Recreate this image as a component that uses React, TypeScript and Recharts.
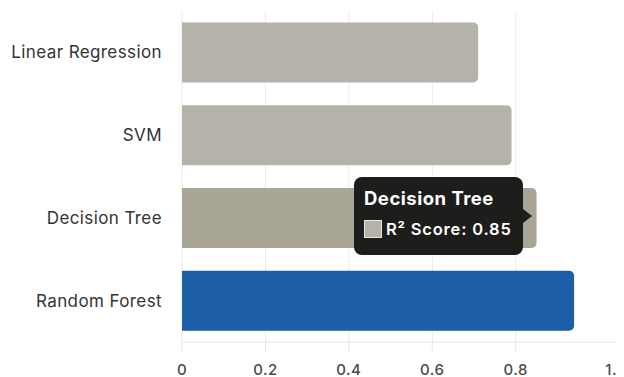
import React from 'react';
import { BarChart, Bar, XAxis, YAxis, CartesianGrid, Tooltip, Cell } from 'recharts';

const models = ['Linear Regression', 'SVM', 'Decision Tree', 'Random Forest'];
const r2Scores = [0.71, 0.79, 0.85, 0.94];
const xTicks = [0, 0.2, 0.4, 0.6, 0.8, 1.05];

const data = models.map((model, i) => ({ model, r2: r2Scores[i] }));

const FONT = 'Inter, "Noto Sans", sans-serif';

const barFill = (i: number) => {
  if (i === models.length - 1) return '#1c5ea7';
  if (i === 2) return '#a9a697';
  return '#b5b2aa';
};

// one decimal, so the 1.05 end tick reads 1.1
const fmtTick = (v: number) => String(Number(v.toFixed(1)));

const ScoreTooltip = ({ active, payload }: any) => {
  if (!active || !payload || !payload.length) return null;
  const item = payload[0];
  return (
    <div
      style={{
        position: 'relative',
        width: 169,
        height: 78,
        boxSizing: 'border-box',
        background: '#1d1d1b',
        borderRadius: 8,
        padding: '9px 10px',
        color: '#fff',
        fontFamily: FONT,
      }}
    >
      <div style={{ fontSize: 18.5, fontWeight: 700, lineHeight: '25px', letterSpacing: 0.5, whiteSpace: 'nowrap' }}>
        {item.payload.model}
      </div>
      <div style={{ display: 'flex', alignItems: 'center', marginTop: 8 }}>
        <span
          style={{
            display: 'inline-block',
            width: 16,
            height: 16,
            background: '#b5b2aa',
            border: '1px solid #e6e6e6',
            marginRight: 4,
            flexShrink: 0,
          }}
        />
        <span style={{ fontSize: 16.5, fontWeight: 600, letterSpacing: 0.8, whiteSpace: 'nowrap' }}>
          R² Score: {item.value}
        </span>
      </div>
      <div
        style={{
          position: 'absolute',
          right: -9,
          top: 32,
          width: 0,
          height: 0,
          borderTop: '7px solid transparent',
          borderBottom: '7px solid transparent',
          borderLeft: '9px solid #1d1d1b',
        }}
      />
    </div>
  );
};

export default function App() {
  return (
    <BarChart
      width={616}
      height={369}
      data={data}
      layout="vertical"
      margin={{ top: 3, right: 4, bottom: 0, left: 0 }}
      barCategoryGap="14%"
    >
      <CartesianGrid horizontal={false} stroke="#ebebeb" />
      <XAxis
        type="number"
        domain={[0, 1.05]}
        ticks={xTicks}
        tickFormatter={fmtTick}
        height={35}
        tickSize={10}
        tickMargin={12}
        stroke="#e6e6e6"
        tick={{ fill: '#4a4a4a', fontSize: 15, fontWeight: 500, fontFamily: FONT, letterSpacing: 0.5 }}
      />
      <YAxis
        type="category"
        dataKey="model"
        width={174}
        axisLine={false}
        tickLine={false}
        tickMargin={14}
        tick={{ fill: '#333', fontSize: 17, fontFamily: FONT, letterSpacing: 0.4 }}
      />
      <Tooltip
        content={<ScoreTooltip />}
        defaultIndex={2}
        active
        cursor={false}
        position={{ x: 346, y: 169 }}
        isAnimationActive={false}
        wrapperStyle={{ outline: 'none' }}
      />
      <Bar dataKey="r2" radius={[0, 5, 5, 0]} isAnimationActive={false}>
        {data.map((d, i) => (
          <Cell key={d.model} fill={barFill(i)} />
        ))}
      </Bar>
    </BarChart>
  );
}
